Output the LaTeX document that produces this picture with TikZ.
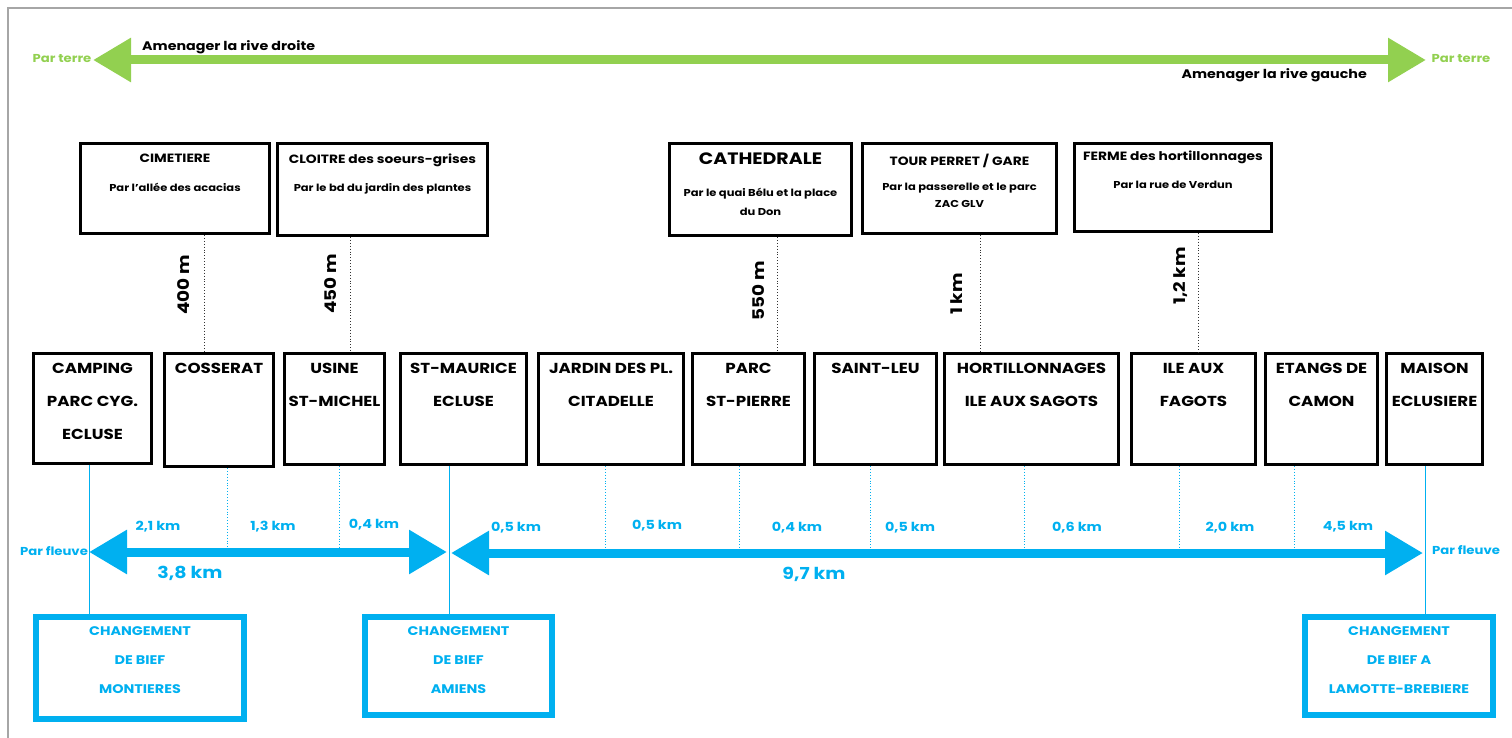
\documentclass[tikz,border=0pt]{standalone}
\usepackage{fontspec}
\setmainfont{Poppins}[FakeStretch=1.15]
\usetikzlibrary{arrows.meta}
\definecolor{cyanb}{HTML}{00B0F0}
\definecolor{greenr}{HTML}{92D050}
\tikzset{
  blackbox/.style={draw=black, line width=3pt, anchor=north west, inner sep=0pt, fill=white},
  bluebox/.style={draw=cyanb, line width=6pt, anchor=north west, inner sep=0pt},
  mtxt/.style={anchor=north, align=center, inner sep=0pt, font=\fontsize{14.5}{33}\selectfont\bfseries},
  ttl/.style={anchor=north, align=center, inner sep=0pt, font=\fontsize{12}{14}\selectfont\bfseries},
  sub/.style={anchor=north, align=center, inner sep=0pt, font=\fontsize{10}{17}\selectfont\bfseries},
  btxt/.style={anchor=north, align=center, inner sep=0pt, text=cyanb, font=\fontsize{12.5}{29}\selectfont\bfseries},
  vlab/.style={rotate=90, inner sep=0pt, font=\fontsize{16}{18}\selectfont\bfseries},
  dist/.style={inner sep=0pt, text=cyanb, font=\fontsize{12.5}{14}\selectfont\bfseries},
  total/.style={inner sep=0pt, text=cyanb, font=\fontsize{16.5}{18}\selectfont\bfseries},
  endlab/.style={inner sep=0pt, font=\fontsize{11.5}{13}\selectfont\bfseries},
  rive/.style={inner sep=0pt, font=\fontsize{12.4}{14}\selectfont\bfseries},
  dotconn/.style={draw=black!80, line width=0.9pt, dotted},
  bdot/.style={draw=cyanb, line width=0.9pt, dotted},
  bline/.style={draw=cyanb, line width=1.4pt},
  bigarrow/.style={line width=9pt, {Triangle[length=38pt,width=42pt]}-{Triangle[length=38pt,width=42pt]}}
}
\begin{document}
\begin{tikzpicture}[x=1pt,y=-1pt]
\useasboundingbox (0,0) rectangle (1512,738);
% frame
\draw[gray!70, line width=1.5pt] (8,738) -- (8,8) -- (1512,8);

% green arrow
\coordinate (gA) at (93,60);
\coordinate (gB) at (1426,60);
\draw[greenr, bigarrow] (gA) -- (gB);
\node[endlab, text=greenr] (gtl) at (62,59) {Par terre};
\node[endlab, text=greenr] (gtr) at (1461,59) {Par terre};
\node[rive, anchor=west] (rd) at (142,47) {Amenager la rive droite};
\node[rive, anchor=east] (rg) at (1367,75) {Amenager la rive gauche};

% top boxes
\node[blackbox, minimum width=189pt, minimum height=90pt] (tb1) at (79,142) {};
\node[blackbox, minimum width=210pt, minimum height=92pt] (tb2) at (276,142) {};
\node[blackbox, minimum width=182pt, minimum height=92pt] (tb3) at (668,142) {};
\node[blackbox, minimum width=194pt, minimum height=90pt] (tb4) at (861,142) {};
\node[blackbox, minimum width=197pt, minimum height=88pt] (tb5) at (1073,142) {};

\node[ttl] at ([yshift=-12pt]tb1.north) {CIMETIERE};
\node[sub] at ([yshift=-41pt]tb1.north) {Par l'allée des acacias};
\node[ttl] at ([yshift=-12pt]tb2.north) {CLOITRE des soeurs-grises};
\node[sub] at ([yshift=-41pt]tb2.north) {Par le bd du jardin des plantes};
\node[ttl, font=\fontsize{16.5}{18}\selectfont\bfseries] at ([yshift=-11pt]tb3.north) {CATHEDRALE};
\node[sub, font=\fontsize{10}{19}\selectfont\bfseries] at ([yshift=-46pt]tb3.north) {Par le quai Bélu et la place\\du Don};
\node[ttl] at ([yshift=-12pt]tb4.north) {TOUR PERRET / GARE};
\node[sub] at ([yshift=-41pt]tb4.north) {Par la passerelle et le parc\\ZAC GLV};
\node[ttl] at ([yshift=-9pt]tb5.north) {FERME des hortillonnages};
\node[sub] at ([yshift=-39pt]tb5.north) {Par la rue de Verdun};

% middle boxes
\node[blackbox, minimum width=118pt, minimum height=110pt] (m1) at (32,352) {};
\node[blackbox, minimum width=109pt, minimum height=113pt] (m2) at (163,352) {};
\node[blackbox, minimum width=100pt, minimum height=111pt] (m3) at (283,352) {};
\node[blackbox, minimum width=126pt, minimum height=111pt] (m4) at (399,352) {};
\node[blackbox, minimum width=145pt, minimum height=111pt] (m5) at (537,352) {};
\node[blackbox, minimum width=112pt, minimum height=111pt] (m6) at (691,352) {};
\node[blackbox, minimum width=122pt, minimum height=111pt] (m7) at (813,352) {};
\node[blackbox, minimum width=174pt, minimum height=111pt] (m8) at (943,352) {};
\node[blackbox, minimum width=124pt, minimum height=111pt] (m9) at (1130,352) {};
\node[blackbox, minimum width=112pt, minimum height=111pt] (m10) at (1264,352) {};
\node[blackbox, minimum width=96pt, minimum height=111pt] (m11) at (1385,352) {};

\node[mtxt] at ([yshift=-11pt]m1.north) {CAMPING\\PARC CYG.\\ECLUSE};
\node[mtxt] at ([yshift=-11pt]m2.north) {COSSERAT};
\node[mtxt] at ([yshift=-11pt]m3.north) {USINE\\ST-MICHEL};
\node[mtxt] at ([yshift=-11pt]m4.north) {ST-MAURICE\\ECLUSE};
\node[mtxt] at ([yshift=-11pt]m5.north) {JARDIN DES PL.\\CITADELLE};
\node[mtxt] at ([yshift=-11pt]m6.north) {PARC\\ST-PIERRE};
\node[mtxt] at ([yshift=-11pt]m7.north) {SAINT-LEU};
\node[mtxt] at ([yshift=-11pt]m8.north) {HORTILLONNAGES\\ILE AUX SAGOTS};
\node[mtxt] at ([yshift=-11pt]m9.north) {ILE AUX\\FAGOTS};
\node[mtxt] at ([yshift=-11pt]m10.north) {ETANGS DE\\CAMON};
\node[mtxt] at ([yshift=-11pt]m11.north) {MAISON\\ECLUSIERE};

% dotted connectors top -> middle
\draw[dotconn] ([xshift=29.5pt]tb1.south) -- ([xshift=29.5pt]tb1.south |- m2.north);
\draw[dotconn] ([xshift=-32pt]tb2.south) -- ([xshift=-32pt]tb2.south |- m3.north);
\draw[dotconn] ([xshift=17pt]tb3.south) -- ([xshift=17pt]tb3.south |- m6.north);
\draw[dotconn] ([xshift=21pt]tb4.south) -- ([xshift=21pt]tb4.south |- m8.north);
\draw[dotconn] ([xshift=25.5pt]tb5.south) -- ([xshift=25.5pt]tb5.south |- m9.north);

\node[vlab] at (184,285) {400 m};
\node[vlab] at (331,284) {450 m};
\node[vlab] at (759,291) {550 m};
\node[vlab] at (957,294) {1 km};
\node[vlab] at (1181,276) {1,2 km};

% bottom blue boxes
\node[bluebox, minimum width=208pt, minimum height=102pt] (bb1) at (33,614) {};
\node[bluebox, minimum width=187pt, minimum height=98pt] (bb2) at (362,614) {};
\node[bluebox, minimum width=188pt, minimum height=98pt] (bb3) at (1302,614) {};
\node[btxt] at ([yshift=-12pt]bb1.north) {CHANGEMENT\\DE BIEF\\MONTIERES};
\node[btxt] at ([yshift=-12pt]bb2.north) {CHANGEMENT\\DE BIEF\\AMIENS};
\node[btxt] at ([yshift=-12pt]bb3.north) {CHANGEMENT\\DE BIEF A\\LAMOTTE-BREBIERE};

% blue solid verticals
\draw[bline] ([xshift=-3pt]m1.south) -- ([xshift=-3pt]m1.south |- bb1.north);
\draw[bline] ([xshift=-14pt]m4.south) -- ([xshift=-14pt]m4.south |- bb2.north);
\draw[bline] ([xshift=-9pt]m11.south) -- ([xshift=-9pt]m11.south |- bb3.north);

% blue arrows
\coordinate (bA) at (89,552);
\coordinate (bB) at (447,552);
\coordinate (bC) at (451,553);
\coordinate (bD) at (1423,553);
\draw[cyanb, bigarrow] (bA) -- (bB);
\draw[cyanb, bigarrow] (bC) -- (bD);

% blue dotted
\draw[bdot] ([xshift=8.5pt]m2.south) -- ([xshift=8.5pt]m2.south |- bA);
\draw[bdot] ([xshift=5pt]m3.south) -- ([xshift=5pt]m3.south |- bA);
\draw[bdot] ([xshift=-5.5pt]m5.south) -- ([xshift=-5.5pt]m5.south |- bC);
\draw[bdot] ([xshift=-9pt]m6.south) -- ([xshift=-9pt]m6.south |- bC);
\draw[bdot] ([xshift=-5pt]m7.south) -- ([xshift=-5pt]m7.south |- bC);
\draw[bdot] ([xshift=-7pt]m8.south) -- ([xshift=-7pt]m8.south |- bC);
\draw[bdot] ([xshift=-14pt]m9.south) -- ([xshift=-14pt]m9.south |- bC);
\draw[bdot] ([xshift=-27pt]m10.south) -- ([xshift=-27pt]m10.south |- bC);

% distances
\node[dist] at (158,527) {2,1 km};
\node[dist] at (273,527) {1,3 km};
\node[dist] at (374,525) {0,4 km};
\node[dist] at (516,528) {0,5 km};
\node[dist] at (657,526) {0,5 km};
\node[dist] at (797,528) {0,4 km};
\node[dist] at (910,528) {0,5 km};
\node[dist] at (1077,528) {0,6 km};
\node[dist] at (1230,528) {2,0 km};
\node[dist] at (1348,527) {4,5 km};
\node[total] at (190,573) {3,8 km};
\node[total] at (814,574) {9,7 km};
\node[endlab, text=cyanb] (bl) at (54,551) {Par fleuve};
\node[endlab, text=cyanb] (br) at (1466,550) {Par fleuve};
\end{tikzpicture}
\end{document}
